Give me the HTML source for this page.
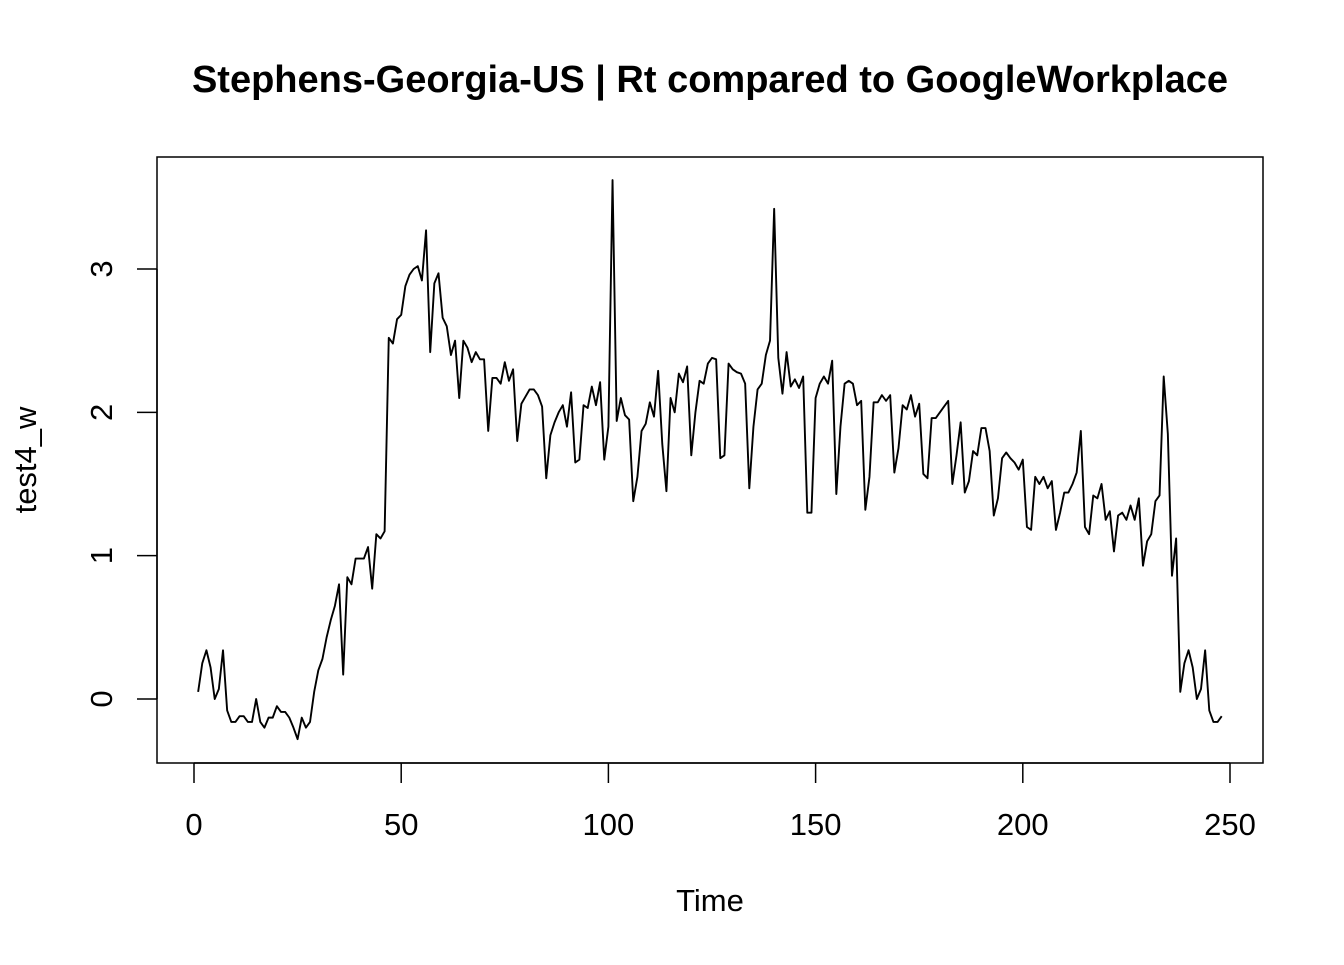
<!DOCTYPE html>
<html><head><meta charset="utf-8"><style>
html,body{margin:0;padding:0;background:#fff;}
svg text{font-family:"Liberation Sans",Arial,sans-serif;fill:#000;}
</style></head><body>
<svg id="chart" width="1344" height="960" viewBox="0 0 1344 960">
<text x="710" y="92" text-anchor="middle" font-size="38" font-weight="bold">Stephens-Georgia-US | Rt compared to GoogleWorkplace</text>
<rect x="157" y="157" width="1106" height="606" fill="none" stroke="#000" stroke-width="1.5"/>
<g id="xaxis"></g>
<g id="yaxis"></g>
<text x="710" y="911" text-anchor="middle" font-size="31">Time</text>
<text transform="translate(36,460) rotate(-90)" text-anchor="middle" font-size="31">test4_w</text>
<path id="series" fill="none" stroke="#000" stroke-width="1.9" stroke-linejoin="round"/>
</svg>
<script>
const xTicks=[0,50,100,150,200,250];
const yTicks=[0,1,2,3];
const values=[0.05,0.25,0.34,0.22,0.0,0.07,0.34,-0.08,-0.16,-0.16,-0.12,-0.12,-0.16,-0.16,0.0,-0.16,-0.2,-0.13,-0.13,-0.05,-0.09,-0.09,-0.13,-0.2,-0.28,-0.13,-0.2,-0.16,0.05,0.2,0.28,0.43,0.55,0.65,0.8,0.17,0.85,0.8,0.98,0.98,0.98,1.06,0.77,1.15,1.12,1.17,2.52,2.48,2.65,2.68,2.88,2.96,3.0,3.02,2.92,3.27,2.42,2.9,2.97,2.66,2.6,2.4,2.5,2.1,2.5,2.45,2.35,2.42,2.37,2.37,1.87,2.24,2.24,2.2,2.35,2.22,2.3,1.8,2.06,2.11,2.16,2.16,2.12,2.04,1.54,1.84,1.93,2.0,2.05,1.9,2.14,1.65,1.67,2.05,2.03,2.18,2.05,2.21,1.67,1.9,3.62,1.94,2.1,1.98,1.95,1.38,1.55,1.87,1.92,2.07,1.97,2.29,1.78,1.45,2.1,2.0,2.27,2.21,2.32,1.7,2.0,2.22,2.2,2.34,2.38,2.37,1.68,1.7,2.34,2.3,2.28,2.27,2.2,1.47,1.9,2.16,2.2,2.4,2.5,3.42,2.38,2.13,2.42,2.18,2.23,2.17,2.25,1.3,1.3,2.1,2.2,2.25,2.2,2.36,1.43,1.9,2.2,2.22,2.2,2.05,2.08,1.32,1.55,2.07,2.07,2.12,2.08,2.12,1.58,1.75,2.05,2.02,2.12,1.97,2.06,1.57,1.54,1.96,1.96,2.0,2.04,2.08,1.5,1.7,1.93,1.44,1.52,1.73,1.7,1.89,1.89,1.73,1.28,1.4,1.68,1.72,1.68,1.65,1.6,1.67,1.2,1.18,1.55,1.5,1.55,1.47,1.52,1.18,1.3,1.44,1.44,1.5,1.58,1.87,1.2,1.15,1.42,1.4,1.5,1.25,1.31,1.03,1.28,1.3,1.25,1.35,1.25,1.4,0.93,1.1,1.15,1.38,1.42,2.25,1.85,0.86,1.12,0.05,0.25,0.34,0.22,0.0,0.07,0.34,-0.08,-0.16,-0.16,-0.12];
const NS="http://www.w3.org/2000/svg";
function sx(t){return 194+(t)*(1230-194)/250;}
function sy(v){return 699-v*(699-269)/3;}
const xa=document.getElementById('xaxis');
let ax=document.createElementNS(NS,'line');
ax.setAttribute('x1',sx(xTicks[0]));ax.setAttribute('x2',sx(xTicks[xTicks.length-1]));ax.setAttribute('y1',763);ax.setAttribute('y2',763);ax.setAttribute('stroke','#000');ax.setAttribute('stroke-width','1.5');


xa.appendChild(ax);
xTicks.forEach(t=>{
 const l=document.createElementNS(NS,'line');
 l.setAttribute('x1',sx(t));l.setAttribute('x2',sx(t));l.setAttribute('y1',763);l.setAttribute('y2',783);l.setAttribute('stroke','#000');l.setAttribute('stroke-width','1.5');
 
 
 xa.appendChild(l);
 const tx=document.createElementNS(NS,'text');
 tx.setAttribute('x',sx(t));tx.setAttribute('y',835);tx.setAttribute('text-anchor','middle');tx.setAttribute('font-size','31');
 tx.textContent=t;
 
 
 xa.appendChild(tx);
});
const ya=document.getElementById('yaxis');
let ay=document.createElementNS(NS,'line');
ay.setAttribute('x1',157);ay.setAttribute('x2',157);ay.setAttribute('y1',sy(yTicks[0]));ay.setAttribute('y2',sy(yTicks[yTicks.length-1]));ay.setAttribute('stroke','#000');ay.setAttribute('stroke-width','1.5');


ya.appendChild(ay);
yTicks.forEach(v=>{
 const l=document.createElementNS(NS,'line');
 l.setAttribute('x1',137);l.setAttribute('x2',157);l.setAttribute('y1',sy(v));l.setAttribute('y2',sy(v));l.setAttribute('stroke','#000');l.setAttribute('stroke-width','1.5');
 
 
 ya.appendChild(l);
 const tx=document.createElementNS(NS,'text');
 tx.setAttribute('transform','translate(112,'+sy(v)+') rotate(-90)');tx.setAttribute('text-anchor','middle');tx.setAttribute('font-size','31');
 tx.textContent=v;
 
 
 ya.appendChild(tx);
});
document.getElementById('series').setAttribute('d',values.map((v,i)=>(i?'L':'M')+sx(i+1).toFixed(2)+' '+sy(v).toFixed(2)).join(' '));
</script>
</body></html>
